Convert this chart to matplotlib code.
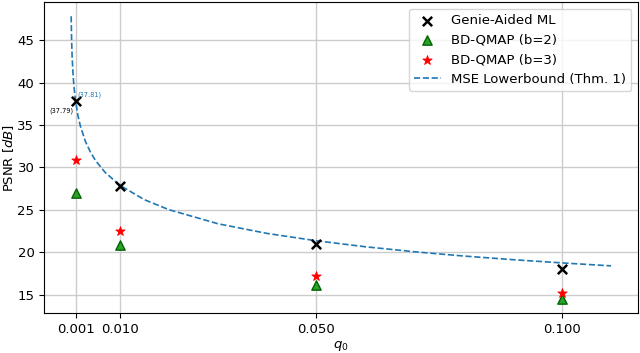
import matplotlib
matplotlib.use('Agg')

import matplotlib.pyplot as plt

# measured points
q_points = [0.001, 0.01, 0.05, 0.1]
psnr_genie = [37.79, 27.85, 21.0, 18.0]
psnr_b2 = [27.0, 20.9, 16.1, 14.5]
psnr_b3 = [30.85, 22.5, 17.2, 15.2]

# lower bound curve
q_bound = [0.0001, 0.0002, 0.0003, 0.0005, 0.0007, 0.001, 0.0015, 0.002, 0.003,
           0.004, 0.005, 0.007, 0.01, 0.015, 0.02, 0.03, 0.04, 0.05, 0.06,
           0.07, 0.08, 0.09, 0.10, 0.11]
psnr_bound = [47.81, 44.80, 43.04, 40.82, 39.36, 37.81, 36.06, 34.82, 33.07,
              31.83, 30.86, 29.42, 27.90, 26.20, 25.02, 23.36, 22.22, 21.36, 20.65,
              20.06, 19.56, 19.13, 18.75, 18.40]

xtick_labels = ['0.001', '0.010', '0.050', '0.100']

plt.rcParams['font.size'] = 9.5

fig = plt.figure(figsize=(6.4, 3.53), dpi=100)
ax = fig.add_subplot(111)
fig.subplots_adjust(left=0.069, right=0.997, top=0.994, bottom=0.113)

ax.scatter(q_points, psnr_genie, marker='x', c='black', s=45, linewidths=1.8, label='Genie-Aided ML', zorder=3)
ax.scatter(q_points, psnr_b2, marker='^', c='tab:green', edgecolors='darkgreen', s=45, label='BD-QMAP (b=2)', zorder=3)
ax.scatter(q_points, psnr_b3, marker='*', c='red', edgecolors='red', s=50, linewidths=0.6, label='BD-QMAP (b=3)', zorder=3)
ax.plot(q_bound, psnr_bound, '--', color='tab:blue', linewidth=1.2, label='MSE Lowerbound (Thm. 1)')

# annotations at q = 0.001
ax.annotate('(%.2f)' % psnr_genie[0], (q_points[0], psnr_genie[0]), xytext=(-19, -8),
            textcoords='offset points', fontsize=4.8, color='black')
ax.annotate('(%.2f)' % psnr_bound[5], (q_bound[5], psnr_bound[5]), xytext=(1, 3),
            textcoords='offset points', fontsize=4.8, color='tab:blue')

ax.set_xticks(q_points)
ax.set_xticklabels(xtick_labels)
ax.set_yticks([15, 20, 25, 30, 35, 40, 45])
ax.set_xlabel('$q_0$', labelpad=2)
ax.set_ylabel('PSNR [$dB$]')
ax.yaxis.set_label_coords(-0.048, 0.5)
ax.grid(True, color='#cccccc', linewidth=1)
ax.set_axisbelow(True)
ax.legend(loc='upper right')

plt.savefig('out.png')
